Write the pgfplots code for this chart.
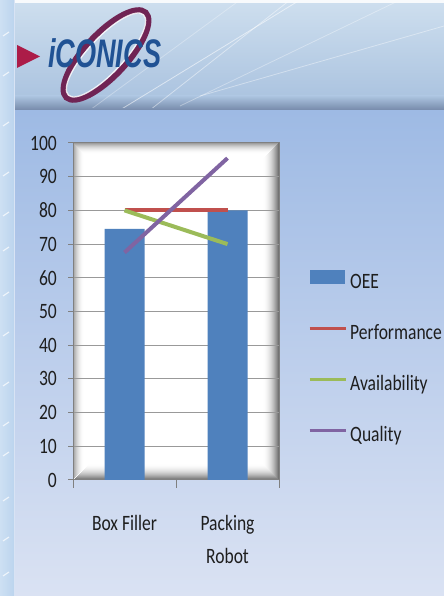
\documentclass[border=0pt]{standalone}
\usepackage{pgfplots}
\pgfplotsset{compat=1.18}
\usepackage{fontspec}
\setmainfont{Carlito}[FakeStretch=0.8]
\newfontfamily\logofont{Liberation Sans}[FakeStretch=0.68]

\definecolor{oee}{RGB}{79,129,189}
\definecolor{perf}{RGB}{192,80,77}
\definecolor{avail}{RGB}{155,187,89}
\definecolor{qual}{RGB}{128,100,162}
\definecolor{bgtop}{RGB}{158,186,228}
\definecolor{bgbot}{RGB}{218,226,243}
\definecolor{bnA}{RGB}{205,222,238}
\definecolor{bnB}{RGB}{172,196,224}
\definecolor{bnC}{RGB}{118,138,170}
\definecolor{stripeA}{RGB}{205,224,243}
\definecolor{stripeB}{RGB}{188,212,238}
\definecolor{logored}{RGB}{172,28,72}
\definecolor{logoblue}{RGB}{32,82,148}
\definecolor{swoosh}{RGB}{112,36,84}
\definecolor{txt}{RGB}{30,30,30}

\begin{document}
\begin{tikzpicture}
\begin{scope}[x=1bp,y=1bp]
\useasboundingbox (0,0) rectangle (444,596);
% main background
\shade[top color=bgtop, bottom color=bgbot] (0,0) rectangle (444,486);
% banner
\shade[top color=bnA, bottom color=bnB] (0,500) rectangle (444,593);
\shade[top color=bnB, bottom color=bnC] (0,486) rectangle (444,500);
\fill[white!85!bnA] (0,593) rectangle (444,596);
% streaks in banner
\begin{scope}
\clip (0,488) rectangle (444,593);
\draw[white, opacity=0.55, line width=0.8] (120,486) -- (300,596);
\draw[white, opacity=0.45, line width=0.8] (150,486) -- (290,596);
\draw[white, opacity=0.40, line width=0.8] (200,500) -- (444,570);
\draw[white, opacity=0.35, line width=0.8] (180,490) -- (400,596);
\draw[white, opacity=0.30, line width=0.8] (90,486) -- (240,596);
\end{scope}
% left stripe
\shade[left color=stripeA, right color=stripeB] (0,0) rectangle (14,596);
\foreach \yy in {20,55,95,140,170,210,260,300,345,380,420,470,520,560}{
  \draw[white, opacity=0.7, line width=1.2] (3,\yy) -- (9,\yy+4);
}
\draw[white!60!bgtop, line width=0.8] (14.4,0) -- (14.4,596);
% logo
\draw[swoosh, line width=6, rotate around={47:(106,541)}] (106,541) ellipse [x radius=58, y radius=21];
\draw[white, opacity=0.85, line width=1.3, rotate around={47:(106,541)}] (106,541) ellipse [x radius=55, y radius=17.5];
\fill[logored] (17,528) -- (17,551) -- (40,539.5) -- cycle;
\node[anchor=base west, inner sep=0pt, text=logoblue, font=\logofont\bfseries\itshape\fontsize{40}{40}\selectfont] at (48,528) {iCONICS};
% plot area shading
\fill[white] (73,116) rectangle (279,453);
\foreach \i in {0,...,15}{
  \pgfmathsetmacro\pr{55*(1-\i/16)*(1-\i/16)}
  \pgfmathsetmacro\pl{38*max(0,1-\i/11)*max(0,1-\i/11)}
  \pgfmathsetmacro\d{\i+0.5}
  \draw[black!\pl, line width=1] (73+\d,116+\d) -- (73+\d,453-\d) -- (279-\d,453-\d);
  \draw[black!\pr, line width=1] (73+\d,116+\d) -- (279-\d,116+\d) -- (279-\d,453-\d);
}
\end{scope}

\begin{axis}[
  at={(73bp,116bp)}, anchor=south west,
  scale only axis, width=206bp, height=337bp,
  xmin=-0.5, xmax=1.5, ymin=0, ymax=100,
  ytick={0,10,...,100},
  xtick={0,1},
  xticklabels={{Box Filler},{Packing\\Robot}},
  minor xtick={-0.5,0.5,1.5},
  tick align=outside, tick pos=left,
  major tick length=5bp, minor tick length=8bp,
  major x tick style={draw=none},
  every tick/.style={gray, line width=1bp},
  ymajorgrids, grid style={gray!80, line width=1bp},
  axis line style={gray, line width=1bp},
  /pgf/number format/assume math mode=true,
  yticklabel style={font=\fontsize{22}{26}\selectfont, text=txt, inner sep=0pt, anchor=east, xshift=-11bp},
  xticklabel style={font=\fontsize{22}{33}\selectfont, text=txt, align=center, inner sep=0pt, anchor=north, yshift=-30bp},
  legend style={draw=none, fill=none, at={(1.1408,0.362)}, anchor=west, inner sep=0pt,
    font=\fontsize{22}{26}\selectfont, text=txt, row sep=31bp, column sep=3bp,
    nodes={inner sep=0pt, text height=15bp, text depth=5bp}},
  legend cell align=left,
]
\addplot[ybar, bar width=40bp, fill=oee, draw=none,
  legend image code/.code={\fill[oee] (0bp,-1bp) rectangle (35bp,13bp);}]
  coordinates {(0,74.5) (1,80)};
\addlegendentry{OEE}
\addplot[perf, line width=4bp, no markers,
  legend image code/.code={\draw[perf, line width=3bp] (0bp,6bp) -- (36bp,6bp);}]
  coordinates {(0,80) (1,80)};
\addlegendentry{Performance}
\addplot[avail, line width=4bp, no markers,
  legend image code/.code={\draw[avail, line width=3bp] (0bp,6bp) -- (36bp,6bp);}]
  coordinates {(0,80) (1,70)};
\addlegendentry{Availability}
\addplot[qual, line width=4bp, no markers,
  legend image code/.code={\draw[qual, line width=3bp] (0bp,6bp) -- (36bp,6bp);}]
  coordinates {(0,67.5) (1,95.5)};
\addlegendentry{Quality}
\end{axis}
\end{tikzpicture}
\end{document}
